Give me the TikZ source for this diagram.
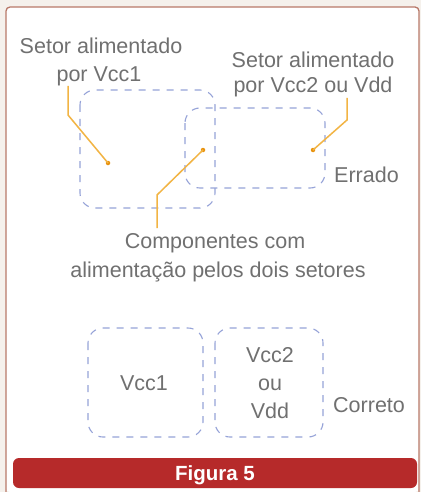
\documentclass[tikz,border=0pt]{standalone}
\usepackage{fontspec}
\setmainfont{Liberation Sans}
\definecolor{txt}{HTML}{707070}
\definecolor{dash}{HTML}{96A3D8}
\definecolor{lead}{HTML}{F2B444}
\definecolor{leaddot}{HTML}{E8920E}
\definecolor{frame}{HTML}{B87868}
\definecolor{banner}{HTML}{B62A2A}
\definecolor{outside}{HTML}{F5F1EC}
\tikzset{
  lbl/.style={font=\fontsize{21.5}{24}\selectfont, text=txt, inner sep=0pt, anchor=base},
  sector/.style={draw=dash, line width=1.1pt, dash pattern=on 7pt off 7pt, rounded corners=15pt},
  leader/.style={draw=lead, line width=1.5pt},
  leadend/.style={circle, fill=leaddot, inner sep=0pt, minimum size=4.5pt},
}
\begin{document}
\begin{tikzpicture}[x=1pt,y=-1pt]
\useasboundingbox (0,0) rectangle (421,492);
\fill[outside] (0,0) rectangle (421,492);
\fill[white, rounded corners=4pt] (6,7) -- (419,7) -- (419,492) -- (6,492) -- cycle;
\draw[frame, line width=1.3pt, rounded corners=4pt] (6,492) -- (6,7) -- (419,7) -- (419,492);

% top (wrong) sectors
\draw[sector] (80,90) rectangle (215,208);
\draw[sector] (185,108) rectangle (325,188);

% labels
\node[lbl] (s1a) at (101,54) {Setor alimentado};
\node[lbl] (s1b) at (99,82) {por Vcc1};
\node[lbl] (s2a) at (313,68) {Setor alimentado};
\node[lbl] (s2b) at (313,93) {por Vcc2 ou Vdd};
\node[lbl, anchor=base west] (err) at (334,182) {Errado};
\node[lbl] (c1) at (215,248) {Componentes com};
\node[lbl] (c2) at (218,277) {alimentação pelos dois setores};

% leaders
\node[leadend] (d1) at (108,163) {};
\node[leadend] (d2) at (203,150) {};
\node[leadend] (d3) at (313,150) {};
\coordinate (b1) at (68,115);
\coordinate (b2) at (157,195);
\coordinate (b3) at (347,120);
\draw[leader] (68,86) -- (b1) -- (d1.center);
\draw[leader] (157,228) -- (b2) -- (d2.center);
\draw[leader] (347,98) -- (b3) -- (d3.center);

% bottom (correct) sectors
\draw[sector] (88,328) rectangle (203,437);
\draw[sector] (215,328) rectangle (323,437);
\node[lbl] (v1) at (144,390) {Vcc1};
\node[lbl] (v2) at (270,362) {Vcc2};
\node[lbl] (v3) at (270,390) {ou};
\node[lbl] (v4) at (270,418) {Vdd};
\node[lbl, anchor=base west] (ok) at (333,412) {Correto};

% banner
\fill[banner, rounded corners=6pt] (13,458) rectangle (417,488);
\node[font=\fontsize{20.5}{23}\selectfont\bfseries, text=white, inner sep=0pt, anchor=base] (fig) at (215,480) {Figura 5};
\end{tikzpicture}
\end{document}
